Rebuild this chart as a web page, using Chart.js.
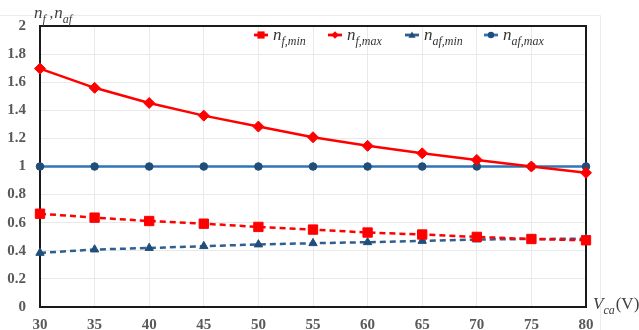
<!DOCTYPE html>
<html>
<head>
<meta charset="utf-8">
<script src="https://cdn.jsdelivr.net/npm/chart.js@4/dist/chart.umd.min.js"></script>
<style>
  html, body { margin: 0; padding: 0; background: #ffffff; }
  #wrap { width: 639px; height: 330px; position: relative; }
</style>
</head>
<body>
<div id="wrap"><canvas id="c" width="639" height="330"></canvas></div>
<script>
// Supply voltage V_ca (V)
const voltages = [30, 35, 40, 45, 50, 55, 60, 65, 70, 75, 80];

// Factors versus supply voltage
const nfMin  = [0.664, 0.636, 0.612, 0.593, 0.570, 0.551, 0.530, 0.516, 0.499, 0.484, 0.475];
const nfMax  = [1.697, 1.560, 1.452, 1.362, 1.284, 1.208, 1.147, 1.094, 1.047, 1.000, 0.955];
const nafMin = [0.385, 0.409, 0.420, 0.433, 0.445, 0.454, 0.461, 0.470, 0.480, 0.484, 0.486];
const nafMax = [1.0, 1.0, 1.0, 1.0, 1.0, 1.0, 1.0, 1.0, 1.0, 1.0, 1.0];

// Legend subscripts (main symbol is italic "n")
const legendSubs = ['f,min', 'f,max', 'af,min', 'af,max'];

// Axis ranges and ticks
const xTicks = { min: 30, max: 80, step: 5 };
const yTicks = { min: 0, max: 2, step: 0.2 };

const RED = '#ff0000';
const BLUE_LINE = '#2e75b6';
const BLUE_DASH = '#2f5f8f';
const NAVY = '#1f4e79';
const SERIF = '"Liberation Serif", "Times New Roman", serif';

const toPoints = arr => arr.map((v, i) => ({ x: voltages[i], y: v }));

const datasets = [
  { label: 'nf,min', data: toPoints(nfMin), borderColor: RED, backgroundColor: RED,
    borderDash: [6, 4], pointStyle: 'rect', pointRadius: 6.6, pointBorderColor: RED, pointBackgroundColor: RED },
  { label: 'nf,max', data: toPoints(nfMax), borderColor: RED, backgroundColor: RED,
    pointStyle: 'rectRot', pointRadius: 5.5, pointBorderColor: RED, pointBackgroundColor: RED },
  { label: 'naf,min', data: toPoints(nafMin), borderColor: BLUE_DASH, backgroundColor: NAVY,
    borderDash: [6, 4], pointStyle: 'triangle', pointRadius: 4.8, pointBorderColor: NAVY, pointBackgroundColor: NAVY },
  { label: 'naf,max', data: toPoints(nafMax), borderColor: BLUE_LINE, backgroundColor: NAVY,
    pointStyle: 'circle', pointRadius: 3.8, pointBorderColor: NAVY, pointBackgroundColor: NAVY }
];
datasets.forEach(d => { d.borderWidth = 2.5; d.pointBorderWidth = 1; d.tension = 0; d.fill = false; d.clip = false; });

function drawMarker(ctx, style, x, y, r, color) {
  ctx.save();
  ctx.fillStyle = color;
  ctx.beginPath();
  if (style === 'rect') {
    ctx.rect(x - r, y - r, 2 * r, 2 * r);
  } else if (style === 'rectRot') {
    ctx.moveTo(x, y - r); ctx.lineTo(x + r, y); ctx.lineTo(x, y + r); ctx.lineTo(x - r, y);
  } else if (style === 'triangle') {
    ctx.moveTo(x, y - r); ctx.lineTo(x + r, y + r * 0.75); ctx.lineTo(x - r, y + r * 0.75);
  } else {
    ctx.arc(x, y, r, 0, Math.PI * 2);
  }
  ctx.closePath();
  ctx.fill();
  ctx.restore();
}

// Italic symbol with an italic subscript
function drawSymbol(ctx, x, baseY, main, sub, size) {
  ctx.save();
  ctx.textAlign = 'left';
  ctx.textBaseline = 'alphabetic';
  ctx.font = 'italic ' + size + 'px ' + SERIF;
  ctx.fillText(main, x, baseY);
  const w = ctx.measureText(main).width;
  ctx.font = 'italic ' + Math.round(size * 0.68) + 'px ' + SERIF;
  ctx.fillText(sub, x + w, baseY + size * 0.28);
  const w2 = ctx.measureText(sub).width;
  ctx.restore();
  return w + w2;
}

const framePlugin = {
  id: 'frame',
  beforeDraw(chart) {
    const ctx = chart.ctx;
    ctx.save();
    ctx.fillStyle = '#ffffff';
    ctx.fillRect(0, 0, chart.width, chart.height);
    // faint outer chart frame
    ctx.strokeStyle = '#ececec';
    ctx.lineWidth = 1;
    ctx.beginPath();
    ctx.moveTo(0, 15.5); ctx.lineTo(600.5, 15.5); ctx.lineTo(600.5, chart.height);
    ctx.stroke();
    ctx.restore();
  },
  beforeDatasetsDraw(chart) {
    const a = chart.chartArea, ctx = chart.ctx;
    ctx.save();
    ctx.strokeStyle = '#1a1a1a';
    ctx.lineWidth = 2;
    ctx.strokeRect(a.left, a.top, a.right - a.left, a.bottom - a.top);
    ctx.restore();
  },
  afterDraw(chart) {
    const ctx = chart.ctx;
    const a = chart.chartArea;
    ctx.save();
    ctx.fillStyle = '#404040';
    // y-axis title: n_f , n_af
    let x = 34;
    x += drawSymbol(ctx, x, 18, 'n', 'f', 17);
    ctx.font = '15px ' + SERIF;
    ctx.fillText(' ,', x, 18);
    x += ctx.measureText(' ,').width + 1;
    drawSymbol(ctx, x, 18, 'n', 'af', 17);
    // x-axis title: V_ca (V)
    let vx = a.right + 7;
    vx += drawSymbol(ctx, vx, 309, 'V', 'ca', 17);
    ctx.font = '17px ' + SERIF;
    ctx.fillText('(V)', vx + 1, 309);

    // legend
    const centers = [261, 335, 412, 491];
    const ly = 35;
    chart.data.datasets.forEach((ds, i) => {
      const cx = centers[i];
      ctx.save();
      ctx.strokeStyle = ds.borderColor;
      ctx.lineWidth = 2.8;
      ctx.beginPath();
      ctx.moveTo(cx - 7, ly); ctx.lineTo(cx + 7, ly);
      ctx.stroke();
      ctx.restore();
      const r = { rect: 3.6, rectRot: 3.8, triangle: 3.6, circle: 3.2 }[ds.pointStyle];
      drawMarker(ctx, ds.pointStyle, cx, ly, r, ds.pointBackgroundColor);
      ctx.fillStyle = '#333333';
      drawSymbol(ctx, cx + 12, ly + 5, 'n', legendSubs[i], 17);
    });
    ctx.restore();
  }
};

const gridColor = '#e9e9e9';

new Chart(document.getElementById('c'), {
  type: 'line',
  data: { datasets },
  options: {
    responsive: false,
    animation: false,
    events: [],
    layout: { padding: { left: 0, top: 26, right: 53, bottom: 0 } },
    plugins: { legend: { display: false }, tooltip: { enabled: false } },
    scales: {
      x: {
        type: 'linear',
        min: xTicks.min, max: xTicks.max,
        afterFit(s) { s.height = 22; },
        grid: { color: gridColor, lineWidth: 1, drawTicks: false },
        border: { display: false },
        ticks: {
          stepSize: xTicks.step, padding: 9, maxRotation: 0,
          color: '#595959', font: { family: SERIF, size: 15, weight: 'bold' }
        }
      },
      y: {
        min: yTicks.min, max: yTicks.max,
        afterFit(s) { s.width = 40; },
        grid: { color: gridColor, lineWidth: 1, drawTicks: false },
        border: { display: false },
        ticks: {
          stepSize: yTicks.step, padding: 14,
          color: '#595959', font: { family: SERIF, size: 15, weight: 'bold' },
          callback: v => Number(v.toFixed(1)).toString()
        }
      }
    }
  },
  plugins: [framePlugin]
});
</script>
</body>
</html>
